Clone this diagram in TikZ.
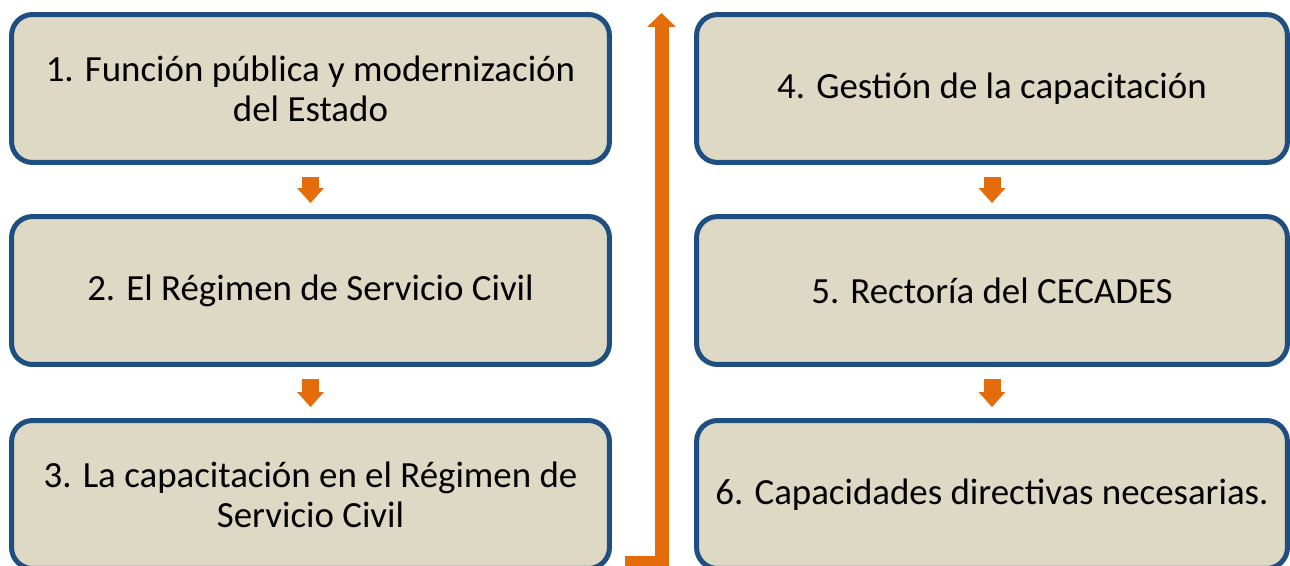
\documentclass[tikz,border=0pt]{standalone}
\usepackage{fontspec}
\setmainfont{Carlito}
\usetikzlibrary{arrows.meta}
\definecolor{boxblue}{HTML}{1F4E80}
\definecolor{boxtan}{HTML}{DDD9C4}
\definecolor{flow}{HTML}{E46C0A}
\begin{document}
\begin{tikzpicture}[
    x=0.02cm, y=-0.02cm,
    every node/.style={align=center, font=\fontsize{21}{22.8}\selectfont},
    topic/.style={draw=boxblue, fill=boxtan, line width=0.1cm, rounded corners=0.42cm, minimum height=2.96cm, inner sep=0pt},
    left topic/.style={topic, minimum width=11.96cm},
    right topic/.style={topic, minimum width=11.82cm},
    next arrow/.style={draw=flow, line width=0.34cm, shorten <=0.24cm, shorten >=0.22cm, -{Triangle[width=0.52cm,length=0.3cm]}},
    loop arrow/.style={draw=flow, line width=0.28cm, -{Triangle[width=0.56cm,length=0.28cm]}},
    ]
\useasboundingbox (0,0) rectangle (1290,565);
\node[left topic] (T1) at (310.5,88.5) {1. Función pública y modernización\\del Estado};
\node[left topic] (T2) at (310.5,290.5) {2. El Régimen de Servicio Civil};
\node[left topic] (T3) at (310.5,494.5) {3. La capacitación en el Régimen de\\Servicio Civil};
\node[right topic] (T4) at (992,88.5) {4. Gestión de la capacitación};
\node[right topic] (T5) at (992,290.5) {5. Rectoría del CECADES};
\node[right topic] (T6) at (992,494.5) {6. Capacidades directivas necesarias.};
\draw[next arrow] (T1) -- (T2);
\draw[next arrow] (T2) -- (T3);
\draw[next arrow] (T4) -- (T5);
\draw[next arrow] (T5) -- (T6);
\coordinate (loopstart) at (625,563);
\coordinate (loopturn) at (661.5,563);
\coordinate (looptop) at (661.5,13);
\draw[loop arrow] (loopstart) -- (loopturn) -- (looptop);
\end{tikzpicture}
\end{document}
